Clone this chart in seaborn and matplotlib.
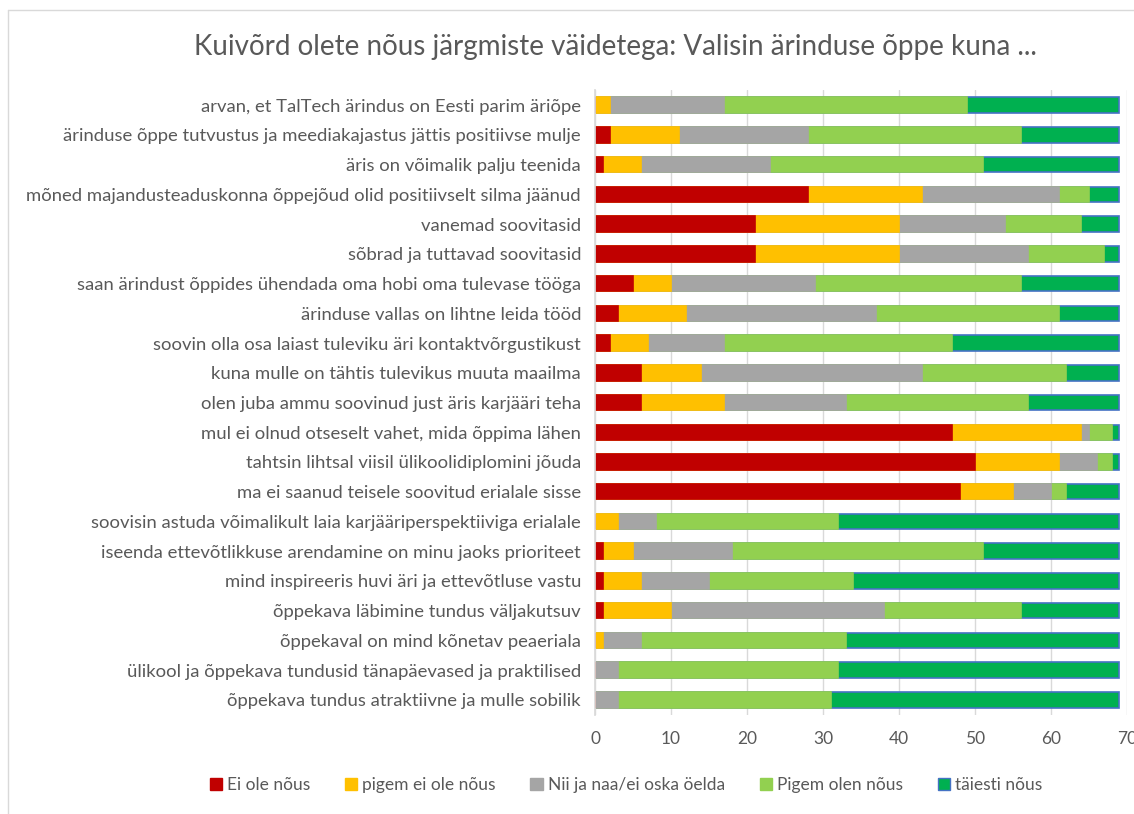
import pandas as pd
import seaborn as sns
import matplotlib.pyplot as plt
from matplotlib.patches import Patch
from matplotlib.lines import Line2D

# statements, top to bottom
labels = [
    "arvan, et TalTech ärindus on Eesti parim äriõpe",
    "ärinduse õppe tutvustus ja meediakajastus jättis positiivse mulje",
    "äris on võimalik palju teenida",
    "mõned majandusteaduskonna õppejõud olid positiivselt silma jäänud",
    "vanemad soovitasid",
    "sõbrad ja tuttavad soovitasid",
    "saan ärindust õppides ühendada oma hobi oma tulevase tööga",
    "ärinduse vallas on lihtne leida tööd",
    "soovin olla osa laiast tuleviku äri kontaktvõrgustikust",
    "kuna mulle on tähtis tulevikus muuta maailma",
    "olen juba ammu soovinud just äris karjääri teha",
    "mul ei olnud otseselt vahet, mida õppima lähen",
    "tahtsin lihtsal viisil ülikoolidiplomini jõuda",
    "ma ei saanud teisele soovitud erialale sisse",
    "soovisin astuda võimalikult laia karjääriperspektiiviga erialale",
    "iseenda ettevõtlikkuse arendamine on minu jaoks prioriteet",
    "mind inspireeris huvi äri ja ettevõtluse vastu",
    "õppekava läbimine tundus väljakutsuv",
    "õppekaval on mind kõnetav peaeriala",
    "ülikool ja õppekava tundusid tänapäevased ja praktilised",
    "õppekava tundus atraktiivne ja mulle sobilik",
]

ei_ole = [0, 2, 1, 28, 21, 21, 5, 3, 2, 6, 6, 47, 50, 48, 0, 1, 1, 1, 0, 0, 0]
pigem_ei = [2, 9, 5, 15, 19, 19, 5, 9, 5, 8, 11, 17, 11, 7, 3, 4, 5, 9, 1, 0, 0]
nii_ja_naa = [15, 17, 17, 18, 14, 17, 19, 25, 10, 29, 16, 1, 5, 5, 5, 13, 9, 28, 5, 3, 3]
pigem_olen = [32, 28, 28, 4, 10, 10, 27, 24, 30, 19, 24, 3, 2, 2, 24, 33, 19, 18, 27, 29, 28]
taiesti = [20, 13, 18, 4, 5, 2, 13, 8, 22, 7, 12, 1, 1, 7, 37, 18, 35, 13, 36, 37, 38]

series = ["Ei ole nõus", "pigem ei ole nõus", "Nii ja naa/ei oska öelda",
          "Pigem olen nõus", "täiesti nõus"]
colors = ["#C00000", "#FFC000", "#A5A5A5", "#92D050", "#00B050"]

df = pd.DataFrame({"label": labels, series[0]: ei_ole, series[1]: pigem_ei,
                   series[2]: nii_ja_naa, series[3]: pigem_olen, series[4]: taiesti})
cum = df[series].cumsum(axis=1)
cum["label"] = labels

sns.set_theme(style="white")
plt.rcParams["font.family"] = ["Lato", "DejaVu Sans"]
txt = "#595959"

fig = plt.figure(figsize=(11.34, 8.14), dpi=100)
ax = fig.add_axes([0.5247, 0.122, 0.4691, 0.767])

# stacked bars: draw cumulative totals from the largest down
for s, c in zip(series[::-1], colors[::-1]):
    ec = "#4472C4" if s == series[-1] else c
    sns.barplot(data=cum, x=s, y="label", color=c, orient="h",
                width=0.52, edgecolor=ec, linewidth=1.2, saturation=1, ax=ax)

ax.set_xlim(0, 70)
ax.set_xticks(range(0, 71, 10))
ax.set_xlabel("")
ax.set_ylabel("")
ax.xaxis.grid(True, color="#D9D9D9", linewidth=1)
ax.set_axisbelow(True)
for sp in ["top", "right", "bottom"]:
    ax.spines[sp].set_visible(False)
ax.spines["left"].set_color("#D9D9D9")
ax.tick_params(axis="both", length=0, colors=txt)
ax.tick_params(axis="y", pad=10, labelsize=13.3)
ax.tick_params(axis="x", pad=12, labelsize=12.5)

fig.text(0.543, 0.942, "Kuivõrd olete nõus järgmiste väidetega: Valisin ärinduse õppe kuna ...",
         ha="center", va="center", fontsize=20, color=txt)

handles = [Patch(facecolor=c, edgecolor=("#4472C4" if i == 4 else c)) for i, c in enumerate(colors)]
fig.legend(handles, series, loc="center", bbox_to_anchor=(0.552, 0.036), ncol=5, frameon=False,
           fontsize=12.5, labelcolor=txt, handlelength=0.7, handleheight=0.7,
           handletextpad=0.3, columnspacing=2.0)

# chart area border (top and left visible)
fig.add_artist(Line2D([8 / 1134, 1], [1 - 10 / 814, 1 - 10 / 814], color="#D9D9D9", lw=1))
fig.add_artist(Line2D([8 / 1134, 8 / 1134], [0, 1 - 10 / 814], color="#D9D9D9", lw=1))

fig.savefig("out.png", dpi=100)
